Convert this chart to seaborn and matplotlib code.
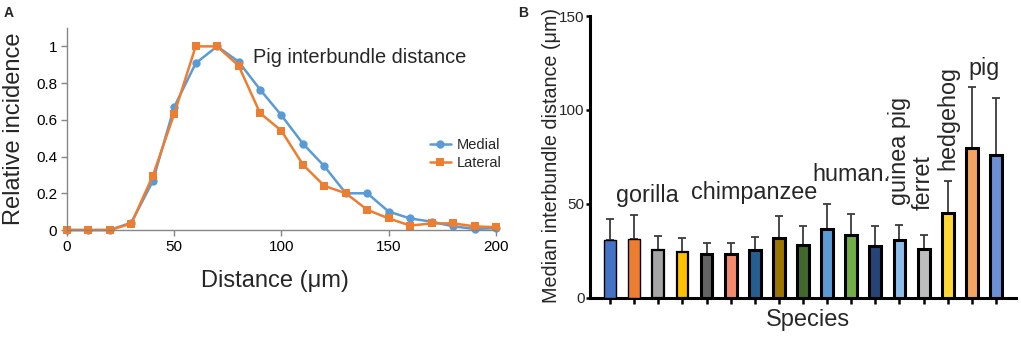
import numpy as np
import pandas as pd
import matplotlib
matplotlib.use("Agg")
import matplotlib.pyplot as plt
import seaborn as sns

# ---------------- data ----------------
distance = [0, 10, 20, 30, 40, 50, 60, 70, 80, 90, 100, 110, 120, 130, 140, 150, 160, 170, 180, 190, 200]
medial = [0, 0, 0, 0.04, 0.266, 0.67, 0.908, 1.0, 0.917, 0.765, 0.624, 0.47, 0.347, 0.20, 0.20,
          0.10, 0.063, 0.045, 0.02, 0.006, 0.01]
lateral = [0, 0, 0, 0.035, 0.295, 0.633, 1.0, 1.0, 0.895, 0.637, 0.54, 0.356, 0.24, 0.20, 0.11,
           0.063, 0.024, 0.036, 0.036, 0.02, 0.015]
series_names = ["Medial", "Lateral"]
series_colors = ["#5B9BD5", "#ED7D31"]

bar_ids = [f"S{i+1}" for i in range(17)]
bar_means = [30.7, 31.4, 25.2, 24.5, 23.4, 23.2, 25.4, 31.6, 27.9, 36.4, 33.4, 27.2, 30.4, 25.8,
             45.1, 79.4, 75.7]
bar_sd = [11.1, 12.3, 7.5, 7.3, 5.9, 6.1, 7.1, 11.6, 10.3, 13.3, 11.0, 11.0, 8.0, 7.6,
          17.1, 32.9, 30.5]
bar_colors = ["#4472C4", "#ED7D31", "#A5A5A5", "#FFC000", "#636363", "#F4896B", "#255E91",
              "#9C7500", "#43682B", "#5B9BD5", "#70AD47", "#264478", "#8DBDEB", "#BDBDBD",
              "#FFD633", "#F4A460", "#6A8FD4"]
bar_edge_lw = [1.0, 1.0, 1.6, 1.6, 2.2, 2.2, 2.2, 2.2, 2.2, 2.2, 2.2, 2.2, 2.2, 2.2, 2.2, 2.2, 2.2]

# species labels: (text, bar position, value, rotation)
label_texts = ["gorilla", "chimpanzee", "human.", "guinea pig", "ferret", "hedgehog", "pig"]
label_x = [1.53, 5.97, 10.0, 12.0, 13.0, 14.0, 15.5]
label_y = [51.0, 52.3, 62.0, 49.3, 46.6, 67.9, 118.8]
label_rot = [0, 0, 0, 90, 90, 90, 0]

# ---------------- style ----------------
sns.set_style("white")
plt.rcParams["font.family"] = ["Liberation Sans", "DejaVu Sans"]

fig = plt.figure(figsize=(10.21, 3.39), dpi=100)

# ---------------- panel A ----------------
axA = fig.add_axes([0.0656, 0.3215, 0.4202, 0.5959])
dfA = pd.DataFrame({
    "Distance": distance * 2,
    "Incidence": medial + lateral,
    "Side": [series_names[0]] * len(distance) + [series_names[1]] * len(distance),
})
sns.lineplot(data=dfA, x="Distance", y="Incidence", hue="Side", style="Side",
             hue_order=series_names, style_order=series_names,
             palette=dict(zip(series_names, series_colors)),
             markers={"Medial": "o", "Lateral": "s"}, dashes=False,
             linewidth=1.8, markersize=6, markeredgewidth=0, ax=axA)
for ln in axA.lines:
    ln.set_clip_on(False)

axA.set_xlim(0, 200)
axA.set_ylim(0, 1.1)
axA.set_xticks([0, 50, 100, 150, 200])
axA.set_yticks([0, 0.2, 0.4, 0.6, 0.8, 1.0])
axA.set_yticklabels(["0", "0.2", "0.4", "0.6", "0.8", "1"])
for s in ["top", "right"]:
    axA.spines[s].set_visible(False)
for s in ["left", "bottom"]:
    axA.spines[s].set_color("#868686")
    axA.spines[s].set_linewidth(1.0)
axA.tick_params(axis="both", which="both", direction="out", length=4, width=1,
                color="#868686", labelsize=11, pad=3, labelcolor="black")
axA.tick_params(axis="both", bottom=True, left=True)
axA.set_xlabel("Distance (μm)", fontsize=17)
axA.set_ylabel("Relative incidence", fontsize=17)
axA.xaxis.set_label_coords(0.485, -0.20)
axA.yaxis.set_label_coords(-0.099, 0.5)
axA.text(86.7, 0.909, "Pig interbundle distance", fontsize=14.4, ha="left", va="baseline")

h, l = axA.get_legend_handles_labels()
axA.legend(h, l, loc="upper left", bbox_to_anchor=(0.845, 0.455), frameon=False,
           fontsize=10.5, handlelength=1.5, handletextpad=0.35, labelspacing=0.3,
           borderpad=0, borderaxespad=0)

# ---------------- panel B ----------------
axB = fig.add_axes([0.5779, 0.1224, 0.4172, 0.8304])
dfB = pd.DataFrame({"Sample": bar_ids, "Median": bar_means})
sns.barplot(data=dfB, x="Sample", y="Median", hue="Sample", order=bar_ids, hue_order=bar_ids,
            palette=dict(zip(bar_ids, bar_colors)), legend=False, errorbar=None,
            saturation=1, width=0.49, edgecolor="black", ax=axB, zorder=3)
for p, lw in zip(axB.patches, bar_edge_lw):
    p.set_linewidth(lw)
axB.errorbar(x=np.arange(len(bar_ids)), y=bar_means,
             yerr=[np.zeros(len(bar_sd)), bar_sd], fmt="none",
             ecolor="#3c3c3c", elinewidth=1.3, capsize=3, capthick=1.3, zorder=2)

axB.set_xlim(-0.83, 16.83)
axB.set_ylim(0, 150)
axB.set_yticks([0, 50, 100, 150])
axB.set_xticks(np.arange(len(bar_ids)))
axB.set_xticklabels([""] * len(bar_ids))
for s in ["top", "right"]:
    axB.spines[s].set_visible(False)
for s in ["left", "bottom"]:
    axB.spines[s].set_color("black")
    axB.spines[s].set_linewidth(2.2)
axB.tick_params(axis="y", direction="out", length=3, width=1.8, color="black",
                labelsize=11, pad=1, left=True)
axB.tick_params(axis="x", direction="out", length=4, width=1.8, color="black", bottom=True)
axB.set_xlabel("Species", fontsize=17)
axB.set_ylabel("Median interbundle distance (μm)", fontsize=14.2)
axB.xaxis.set_label_coords(0.512, -0.04)
axB.yaxis.set_label_coords(-0.069, 0.506)

for t, x, y, r in zip(label_texts, label_x, label_y, label_rot):
    if r == 0:
        axB.text(x, y, t, fontsize=16.8, ha="center", va="baseline")
    else:
        axB.text(x, y, t, fontsize=16.8, ha="center", va="bottom", rotation=90)

# ---------------- panel letters ----------------
fig.text(0.004, 0.95, "A", fontsize=10, fontweight="bold", va="baseline")
fig.text(0.507, 0.95, "B", fontsize=10, fontweight="bold", va="baseline")

fig.savefig("out.png", dpi=100)
